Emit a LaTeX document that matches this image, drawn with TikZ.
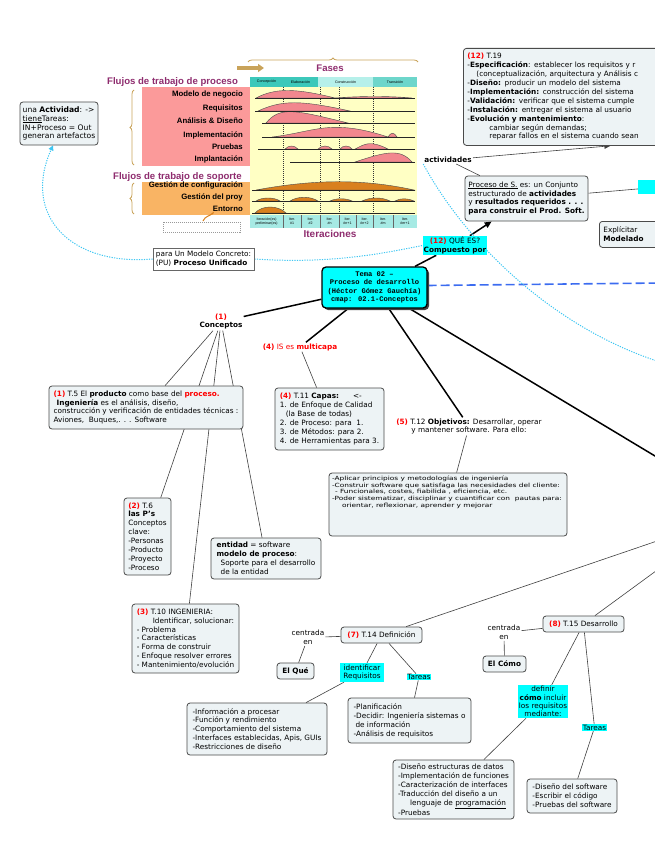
\documentclass[tikz,border=0pt]{standalone}
\usepackage{fontspec}
\setmainfont{DejaVu Sans}
\newfontfamily\monofont{Liberation Mono}
\newfontfamily\widefont[FakeStretch=1.3]{DejaVu Sans}
\newfontfamily\rupfont{Liberation Sans}
\usetikzlibrary{backgrounds,shadows,decorations.pathreplacing,arrows.meta}
\definecolor{boxfill}{HTML}{EDF3F5}
\definecolor{boxline}{HTML}{4A4A4A}
\definecolor{mapcyan}{HTML}{00FFFF}
\definecolor{dotcyan}{HTML}{3FC6F2}
\definecolor{dashblue}{HTML}{3C6CF0}
\definecolor{ruppink}{HTML}{FB9A9A}
\definecolor{rupyellow}{HTML}{FFFFC4}
\definecolor{ruporange}{HTML}{F9B464}
\definecolor{humppink}{HTML}{F2878E}
\definecolor{humporange}{HTML}{D9801E}
\definecolor{ruppurple}{HTML}{8E2C6E}
\definecolor{rupteal}{HTML}{3CC8BA}
\definecolor{rupteallight}{HTML}{B6F0EA}
\definecolor{rupiter}{HTML}{A6EAE4}
\definecolor{ruptan}{HTML}{C9A35A}
\newcommand{\rn}[1]{\textcolor{red}{\textbf{#1}}}
\newcommand{\mapfont}{\fontsize{7.3}{8.9}\selectfont}
\begin{document}
\begin{tikzpicture}[x=1pt,y=-1pt,
  mapbox/.style={draw=boxline, line width=0.8pt, rounded corners=3pt, fill=boxfill, inner sep=2pt, align=left, font=\mapfont},
  lbl/.style={inner sep=1pt, align=center, font=\mapfont},
  cylbl/.style={lbl, fill=mapcyan},
  bigline/.style={line width=1.5pt},
  smallline/.style={draw=black!75, line width=0.6pt},
  dotline/.style={dotcyan, line width=1pt, dash pattern=on 1.2pt off 1.3pt},
  flowlbl/.style={anchor=east, inner sep=0pt, font=\rupfont\bfseries\fontsize{7.8}{8}\selectfont},
  rupttl/.style={inner sep=0pt, text=ruppurple, font=\rupfont\bfseries\fontsize{9.6}{10}\selectfont},
  tiny/.style={inner sep=0pt, align=center, font=\rupfont\fontsize{3.6}{3.9}\selectfont},
  hump/.style={fill=humppink, draw=black!70, line width=0.4pt},
  ohump/.style={fill=humporange, draw=black!70, line width=0.4pt}]
\useasboundingbox (0,0) rectangle (655,848);
\clip (0,0) rectangle (655,848);

\fill[rupyellow] (250,87) rectangle (417,215);
\fill[ruppink] (142,87) rectangle (250,166);
\fill[ruporange] (142,182) rectangle (250,215);
\fill[rupteal] (250,77) rectangle (318,87);
\fill[rupteallight] (318,77) rectangle (373,87);
\fill[rupteal!75] (373,77) rectangle (417,87);
\fill[rupiter] (250,215) rectangle (417,228);
\foreach \xx in {283,320,339,373}
  \draw[black!80, line width=0.5pt, dash pattern=on 1pt off 1pt] (\xx,87) -- (\xx,215);
\foreach \xx in {283,301,320,339,356,373,393}
  \draw[black!60, line width=0.4pt] (\xx,215) -- (\xx,228);
\foreach \xc/\txt [count=\i] in {266.5/Concepción,300.5/Elaboración,345.5/Construcción,395/Transición}
  \node[tiny] (fase\i) at (\xc,82) {\txt};
\foreach \xc/\txt [count=\i] in {266.5/Iteración(es)\\preliminar(es),292/Iter.\\\#1,310.5/Iter.\\\#2,329.5/Iter.\\\#n,347.5/Iter.\\\#n+1,364.5/Iter.\\\#n+2,383/Iter.\\\#m,405/Iter.\\\#m+1}
  \node[tiny] (iter\i) at (\xc,221.5) {\txt};

\filldraw[hump] (256,98) .. controls (275,88) and (295,88) .. (335,98) -- cycle;
\filldraw[hump] (335,98) .. controls (360,96) and (390,96) .. (412,98) -- cycle;
\filldraw[hump] (258,111) .. controls (282,100) and (300,100) .. (350,111) -- cycle;
\filldraw[hump] (266,123) .. controls (280,106) and (295,110) .. (348,123) -- cycle;
\filldraw[hump] (272,137) .. controls (315,132) and (330,118) .. (388,137) -- cycle;
\filldraw[hump] (388,137) .. controls (391,132) and (394,132) .. (397,137) -- cycle;
\filldraw[hump] (285,149) .. controls (289,145) and (294,145) .. (298,149) -- cycle;
\filldraw[hump] (318,149) .. controls (322,145) and (328,145) .. (332,149) -- cycle;
\filldraw[hump] (340,149) .. controls (343,145) and (349,145) .. (352,149) -- cycle;
\filldraw[hump] (355,149) .. controls (365,144) and (370,140) .. (388,149) -- cycle;
\filldraw[hump] (355,162) .. controls (385,152) and (400,148) .. (412,162) -- cycle;
\filldraw[ohump] (256,190) .. controls (310,180) and (360,178) .. (414,190) -- cycle;
\filldraw[ohump] (256,201) .. controls (262,197) and (274,197) .. (280,201) -- cycle;
\filldraw[ohump] (290,201) .. controls (298,196) and (310,196) .. (318,201) -- cycle;
\filldraw[ohump] (330,201) .. controls (336,198) and (346,198) .. (352,201) -- cycle;
\filldraw[ohump] (362,201) .. controls (370,197) and (382,197) .. (390,201) -- cycle;
\filldraw[ohump] (395,201) .. controls (400,198) and (408,198) .. (414,201) -- cycle;
\filldraw[ohump] (255,213) .. controls (262,205) and (278,205) .. (286,213) -- cycle;
\foreach \yy/\xs in {98/255,111/255,123/262,137/262,149/258,162/290,190/252,201/252,213/252}
  \draw[black!85, line width=0.7pt] (\xs,\yy) -- (415,\yy);

\node[flowlbl] (wfnegocio) at (243,95) {Modelo de negocio};
\node[flowlbl] (wfreq) at (243,108) {Requisitos};
\node[flowlbl] (wfanalisis) at (243,121) {Análisis \& Diseño};
\node[flowlbl] (wfimpl) at (243,135) {Implementación};
\node[flowlbl] (wfpruebas) at (243,147) {Pruebas};
\node[flowlbl] (wfimplant) at (243,159) {Implantación};
\node[flowlbl] (wfconf) at (243,185) {Gestión de configuración};
\node[flowlbl] (wfproy) at (243,197) {Gestión del proy};
\node[flowlbl] (wfentorno) at (243,209) {Entorno};
\node[rupttl, anchor=west] (flujoproc) at (107,82) {Flujos de trabajo de proceso};
\node[rupttl, anchor=west] (flujosop) at (113,177) {Flujos de trabajo de soporte};
\node[rupttl] (fases) at (330,68) {Fases};
\node[rupttl, font=\rupfont\bfseries\fontsize{10}{10}\selectfont] (iteraciones) at (330,234) {Iteraciones};
\draw[ruptan, line width=3.5pt, -{Triangle[length=6pt,width=8pt]}] (237,68) -- (264,68);
\draw[ruptan, line width=0.8pt, decorate, decoration={brace, amplitude=4pt}] (248,62) -- (418,62);
\draw[ruptan, line width=0.8pt, decorate, decoration={brace, amplitude=4pt}] (134,165) -- (134,90);
\draw[ruptan, line width=0.8pt, decorate, decoration={brace, amplitude=4pt}] (134,214) -- (134,183);
\draw[black!40, line width=0.3pt, dash pattern=on 1pt off 1pt] (163,222) rectangle (240,232);
\draw[humporange, line width=1pt, -{Stealth[length=3pt]}] (203,221) .. controls (205,216) and (210,216) .. (214,212);

\node[mapbox, minimum width=78, minimum height=43, font=\fontsize{7.6}{8.9}\selectfont] (actbox) at (59,123.5) {una \textbf{Actividad}: ->\\\underline{tiene}Tareas:\\IN+Proceso = Out\\generan artefactos};
\node[draw=black!60, line width=0.8pt, fill=white, inner sep=2pt, align=left, font=\mapfont, minimum width=101, minimum height=22] (pubox) at (203.5,259) {para Un Modelo Concreto:\\(PU) \textbf{Proceso Unificado}};
\node[draw=black, line width=1.3pt, rounded corners=4pt, fill=mapcyan, drop shadow={shadow xshift=2pt, shadow yshift=-2pt, fill=black!75, opacity=1}, align=center, font=\monofont\bfseries\fontsize{7.1}{8.3}\selectfont, minimum width=105, minimum height=41, inner sep=2pt] (tema) at (374.5,287.5) {Tema 02 –\\Proceso de desarrollo\\(Héctor Gómez Gauchía)\\cmap: 02.1-Conceptos};
\node[cylbl] (quees) at (455,245.5) {\rn{(12)} QUÉ ES?\\\textbf{Compuesto por}};
\node[mapbox, minimum width=123, minimum height=45] (procbox) at (526.5,198.5) {\underline{Proceso de S.} es: un Conjunto\\estructurado de \textbf{actividades}\\y \textbf{resultados requeridos . . .}\\\textbf{para construir el Prod. Soft.}};
\node[lbl] (actlbl) at (448,160) {\textbf{actividades}};
\node[mapbox, anchor=north west, minimum width=240, minimum height=97, text width=232] (t19box) at (463,48) {\rn{(12)} T.19\\-\textbf{Especificación}: establecer los requisitos y r\\\hspace*{9pt}(conceptualización, arquitectura y Análisis c\\-\textbf{Diseño:} producir un modelo del sistema\\-\textbf{Implementación:} construcción del sistema\\-\textbf{Validación:} verificar que el sistema cumple\\-\textbf{Instalación:} entregar el sistema al usuario\\-\textbf{Evolución y mantenimiento}:\\\hspace*{22pt}cambiar según demandas;\\\hspace*{22pt}reparar fallos en el sistema cuando sean};
\node[mapbox, anchor=north west, minimum width=70, minimum height=26, text width=62] (explbox) at (599,221) {Explícitar\\\textbf{Modelado}};
\node[fill=mapcyan, anchor=north west, minimum width=40, minimum height=14, inner sep=0pt] (cutlbl) at (638,180) {};
\node[lbl] (concepts) at (221,321.5) {\rn{(1)}\\\textbf{Conceptos}};
\node[lbl, text=red] (multicapa) at (300,347) {\textbf{(4)} IS es \textbf{multicapa}};
\node[mapbox, minimum width=109, minimum height=62] (t11box) at (329.5,419) {\rn{(4)} T.11 \textbf{Capas:}\hspace{14pt}<-\\1. de Enfoque de Calidad\\\hspace*{6pt}(la Base de todas)\\2. de Proceso: para\ \ 1.\\3. de Métodos: para 2.\\4. de Herramientas para 3.};
\node[lbl] (objlbl) at (469,426.5) {\rn{(5)} T.12 \textbf{Objetivos:} Desarrollar, operar\\y mantener software. Para ello:};
\node[mapbox, minimum width=238, minimum height=63] (objbox) at (448,504.5) {\begin{minipage}[t][57pt][t]{232pt}\raggedright\widefont\fontsize{5.7}{6.7}\selectfont -Aplicar principios y metodologías de ingeniería\\-Construir software que satisfaga las necesidades del cliente:\\\hspace*{3pt}- Funcionales, costes, fiabilida , eficiencia, etc.\\-Poder sistematizar, disciplinar y cuantificar con\ \ pautas para:\\\hspace*{10pt}orientar, reflexionar, aprender y mejorar\end{minipage}};
\node[mapbox, minimum width=194, minimum height=43] (t5box) at (146,407.5) {\rn{(1)} T.5 El \textbf{producto} como base del \rn{proceso.}\\\hspace*{3pt}\textbf{Ingeniería} es el análisis, diseño,\\construcción y verificación de entidades técnicas :\\Aviones,\ \ Buques,. . . Software};
\node[mapbox, minimum width=47, minimum height=77] (t6box) at (147.5,536.5) {\rn{(2)} T.6\\\textbf{las P's}\\Conceptos\\clave:\\-Personas\\-Producto\\-Proyecto\\-Proceso};
\node[mapbox, minimum width=110, minimum height=41] (entbox) at (266,558.5) {\textbf{entidad} = software\\\textbf{modelo de proceso}:\\\hspace*{4pt}Soporte para el desarrollo\\\hspace*{4pt}de la entidad};
\node[mapbox, minimum width=107, minimum height=69] (t10box) at (185.5,638.5) {\rn{(3)} T.10 INGENIERIA:\\\hspace*{16pt}Identificar, solucionar:\\- Problema\\- Características\\- Forma de construir\\- Enfoque resolver errores\\- Mantenimiento/evolución};
\node[mapbox, minimum width=81, minimum height=16] (t14box) at (381.5,635) {\rn{(7)} T.14 Definición};
\node[lbl] (centrada1) at (308,637.5) {centrada\\en};
\node[mapbox, minimum width=37, minimum height=16] (elque) at (295.5,671) {\textbf{El Qué}};
\node[cylbl, minimum width=44, minimum height=19, font=\fontsize{7.3}{8.3}\selectfont] (idreq) at (362,672.5) {identificar\\Requisitos};
\node[cylbl, inner sep=0.5pt] (tareas1) at (419,677) {Tareas};
\node[mapbox, minimum width=140, minimum height=52] (reqbox) at (257,729) {-Información a procesar\\-Función y rendimiento\\-Comportamiento del sistema\\-Interfaces establecidas, Apis, GUIs\\-Restricciones de diseño};
\node[mapbox, minimum width=123, minimum height=45] (tarbox1) at (409.5,720.5) {-Planificación\\-Decidir: Ingeniería sistemas o\\\hspace*{2pt}de información\\-Análisis de requisitos};
\node[mapbox, minimum width=81, minimum height=16] (t15box) at (583.5,624) {\rn{(8)} T.15 Desarrollo};
\node[lbl] (centrada2) at (504,632.5) {centrada\\en};
\node[mapbox, minimum width=43, minimum height=16] (elcomo) at (504.5,664) {\textbf{El Cómo}};
\node[cylbl, minimum width=50, minimum height=33, font=\fontsize{7.3}{8.3}\selectfont] (defcomo) at (543,701.5) {definir\\\textbf{cómo} incluir\\los requisitos\\mediante:};
\node[cylbl, inner sep=0.5pt] (tareas2) at (594.5,727.5) {Tareas};
\node[mapbox, minimum width=121, minimum height=59] (desbox) at (453.5,789.5) {-Diseño estructuras de datos\\-Implementación de funciones\\-Caracterización de interfaces\\-Traducción del diseño a un\\\hspace*{12pt}lenguaje de \underline{programación}\\-Pruebas};
\node[mapbox, minimum width=90, minimum height=34] (tarbox2) at (572,796) {-Diseño del software\\-Escribir el código\\-Pruebas del software};

\coordinate (rightA) at (660,459);
\coordinate (rightB) at (660,283);
\coordinate (rightC) at (660,540);
\coordinate (rightD) at (660,568);
\coordinate (rightE) at (660,362);

\begin{pgfonlayer}{background}
\draw[bigline] (tema) -- (concepts);
\draw[bigline] (tema) -- (multicapa);
\draw[bigline] (tema) -- (objlbl);
\draw[bigline] (tema) -- (rightA);
\draw[bigline] (tema) -- (quees);
\draw[bigline, -{Triangle[length=7pt,width=6pt]}] (quees) -- (procbox);
\draw[smallline] (procbox) -- (actlbl);
\draw[smallline, -{Triangle[length=6pt,width=5pt]}] (actlbl) -- ([xshift=27pt]t19box.south);
\draw[smallline] (procbox) -- (cutlbl);
\draw[dashblue, line width=1.6pt, dash pattern=on 9pt off 4pt] ([yshift=2pt]tema.east) -- (rightB);
\draw[dotline, -{Triangle[length=5pt,width=5pt]}] (pubox.west) .. controls (70,266) and (22,215) .. ([xshift=-6pt]actbox.south);
\draw[dotline] (pubox.east) .. controls (330,264) and (380,254) .. (quees.west);
\draw[dotline] (actlbl.south west) .. controls (470,250) and (560,330) .. (rightE);
\draw[smallline] (concepts) -- (t5box);
\draw[smallline] (concepts) -- (t6box);
\draw[smallline] (concepts) -- (t10box);
\draw[smallline] (concepts) -- (entbox);
\draw[smallline] (multicapa) -- (t11box);
\draw[smallline] (objlbl) -- (objbox);
\draw[smallline] (t14box) -- (rightC);
\draw[smallline] (t15box) -- (rightD);
\draw[smallline] (t14box) -- (centrada1);
\draw[smallline] (centrada1) -- (elque);
\draw[smallline] (t14box) -- (idreq);
\draw[smallline] (idreq) -- (reqbox);
\draw[smallline] (t14box) -- (tareas1);
\draw[smallline] (tareas1) -- (tarbox1);
\draw[smallline] (t15box) -- (centrada2);
\draw[smallline] (centrada2) -- (elcomo);
\draw[smallline] (t15box) -- (defcomo);
\draw[smallline] (defcomo) -- (desbox);
\draw[smallline] (t15box) -- (tareas2);
\draw[smallline] (tareas2) -- (tarbox2);
\end{pgfonlayer}
\end{tikzpicture}
\end{document}
